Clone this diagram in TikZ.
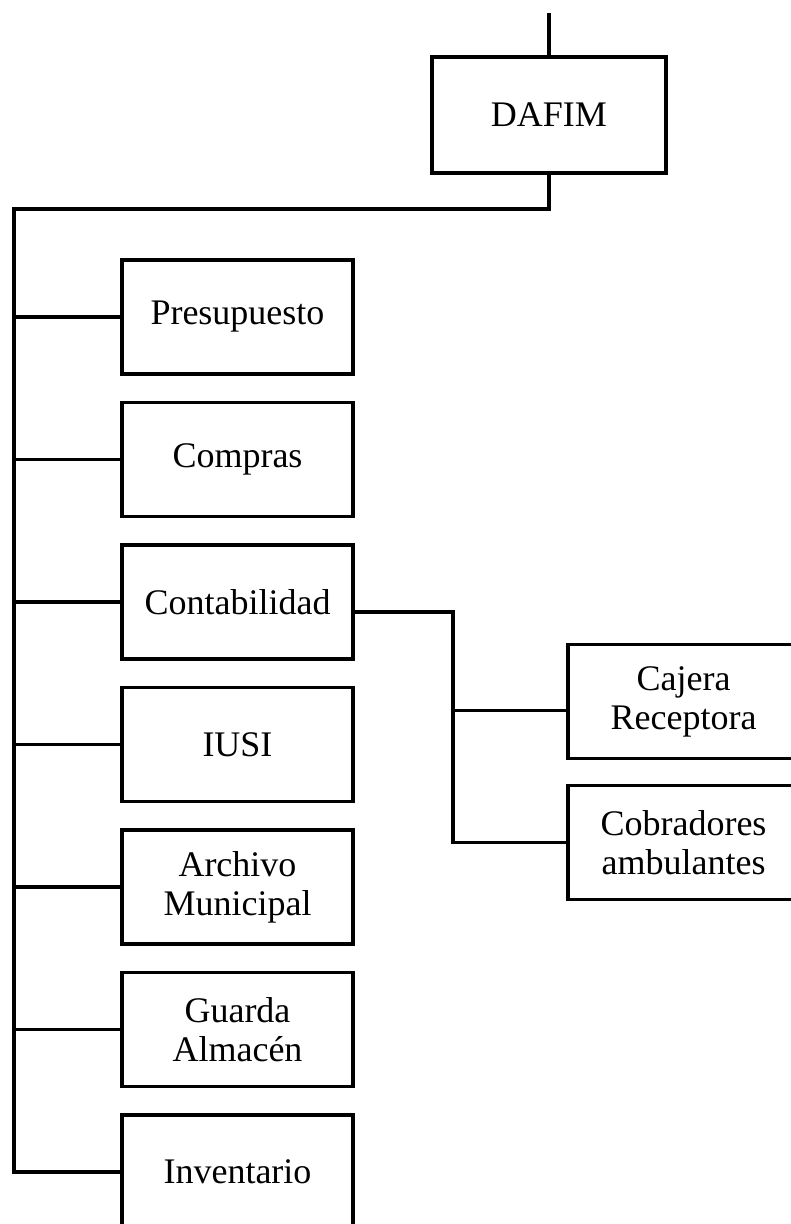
\documentclass[tikz,border=0pt]{standalone}
\usepackage{fontspec}
\setmainfont{Liberation Serif}
\usetikzlibrary{positioning}
\tikzset{
  caja/.style={draw, line width=3.3pt, minimum width=231pt, minimum height=114pt,
    inner sep=2pt, outer sep=0pt, align=center,
    font=\fontsize{36}{39}\selectfont}, % Cajas
  linea/.style={line width=3.3pt} % Lineas
}

\begin{document}
\begin{tikzpicture}[x=1pt, y=1pt]
\useasboundingbox (0,0) rectangle (791,-1224);

%Cajas
\node[caja, minimum width=234pt, minimum height=116pt] (dafim) at (549,-115) {DAFIM};

\node[caja] (pres) at (237.5,-317) {Presupuesto};
\node[caja, below=28.5pt of pres] (comp) {Compras};
\node[caja, below=28.5pt of comp] (cont) {Contabilidad};
\node[caja, below=28.5pt of cont] (iusi) {IUSI};
\node[caja, below=28.5pt of iusi] (arch) {Archivo\\Municipal};
\node[caja, below=28.5pt of arch] (guar) {Guarda\\Almacén};
\node[caja, below=28.5pt of guar] (inv) {Inventario};

\node[caja] (caja) at (683.5,-701.5) {Cajera\\Receptora};
\node[caja, below=27pt of caja] (cobra) {Cobradores\\ambulantes};

%Puntos
\coordinate (arriba) at (549,-13);
\coordinate (bus) at (14,-209);
\coordinate (rama) at (453,0);

%Lineas
\draw[linea] (arriba) -- (dafim.north);
\draw[linea] (dafim.south) |- (bus) -- (bus |- inv.west) -- (inv.west);
\foreach \n in {pres,comp,cont,iusi,arch,guar}
  \draw[linea] (bus |- \n.west) -- (\n.west);
\draw[linea] ([yshift=-10pt]cont.east) -| (rama |- cobra.west) -- (cobra.west);
\draw[linea] ([yshift=-9pt]caja.west -| rama) -- ([yshift=-9pt]caja.west);

\end{tikzpicture}
\end{document}
